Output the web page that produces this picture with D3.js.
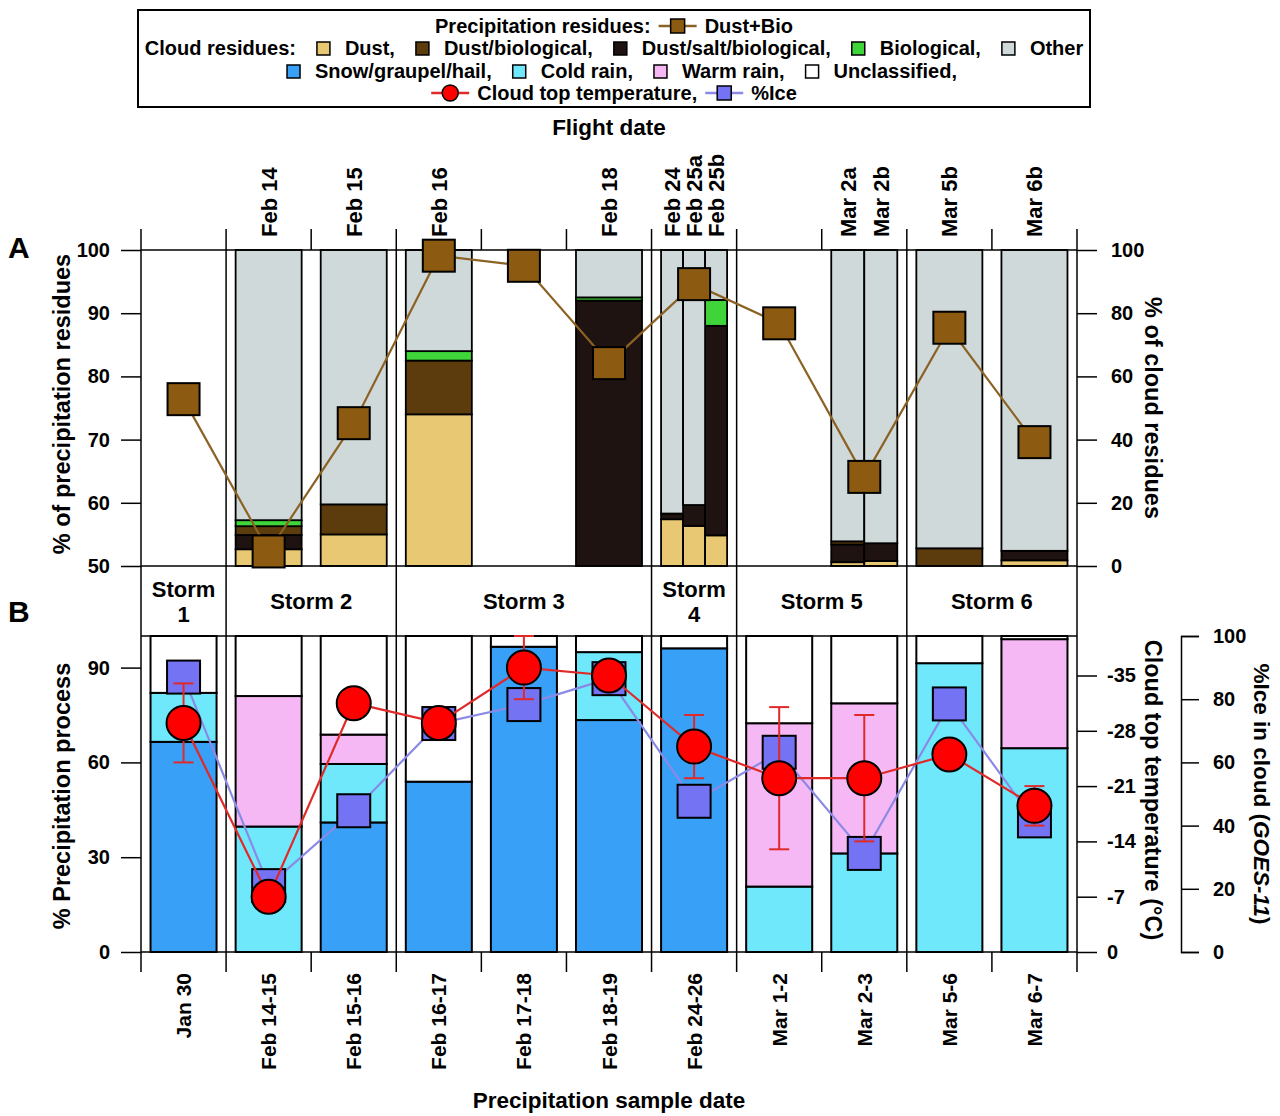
<!DOCTYPE html>
<html>
<head>
<meta charset="utf-8">
<script src="https://cdn.jsdelivr.net/npm/d3@7"></script>
<style>
  body { margin: 0; background: #fff; }
  text { font-family: "Liberation Sans", Arial, sans-serif; font-weight: bold; fill: #000; }
</style>
</head>
<body>
<svg id="chart" width="1280" height="1116"></svg>
<script>
// ---- data ----
const sampleDates = ["Jan 30", "Feb 14-15", "Feb 15-16", "Feb 16-17", "Feb 17-18", "Feb 18-19",
                     "Feb 24-26", "Mar 1-2", "Mar 2-3", "Mar 5-6", "Mar 6-7"];

const stormLabels = [["Storm", "1"], ["Storm 2"], ["Storm 3"], ["Storm", "4"], ["Storm 5"], ["Storm 6"]];
const stormSpans = [1, 2, 3, 1, 2, 2];

// cloud residues (panel A bars), one entry per flight
const flightLabels = ["Feb 14", "Feb 15", "Feb 16", "Feb 18", "Feb 24", "Feb 25a", "Feb 25b",
                      "Mar 2a", "Mar 2b", "Mar 5b", "Mar 6b"];
const flightColumn = [1, 2, 3, 5, 6, 6, 6, 8, 8, 9, 10];
const cloudDust        = [5.3, 10, 48, 0, 14.8, 12.7, 9.7, 1.2, 1.6, 0, 1.8];
const cloudDustSaltBio = [4.5, 0, 0, 84, 1.8, 6.6, 66.3, 5.6, 5.6, 0, 3.0];
const cloudDustBio     = [2.8, 9.5, 17, 0, 0, 0, 0, 1.0, 0, 5.6, 0];
const cloudBio         = [1.9, 0, 3, 1, 0, 0, 8.2, 0, 0, 0, 0];
const cloudOther       = [85.5, 80.5, 32, 15, 83.4, 80.7, 15.8, 92.2, 92.8, 94.4, 95.2];

// precipitation residues Dust+Bio (%), one per sample
const precipDustBio = [76.4, 52.3, 72.6, 99.1, 97.5, 82.1, 94.6, 88.4, 64.1, 87.7, 69.6];

// precipitation process (panel B bars)
const procSnow  = [66.5, 0, 41, 53.9, 96.6, 73.4, 96.1, 0, 0, 0, 0];
const procCold  = [15.5, 39.7, 18.5, 0, 0, 21.5, 0, 20.7, 31.2, 91.4, 64.5];
const procWarm  = [0, 41.3, 9.3, 0, 0, 0, 0, 51.7, 47.5, 0, 34.5];
const procUncl  = [18, 19, 31.2, 46.1, 3.4, 5.1, 3.9, 27.6, 21.3, 8.6, 1];

// cloud top temperature (deg C) with error, and %ice (GOES-11)
const cloudTopTemp = [-29, -7, -31.5, -29, -36, -35, -26, -22, -22, -25, -18.5];
const tempErr      = [5, 0, 0, 0, 4, 0, 4, 9, 8, 0, 2.5];
const iceFraction  = [87, 21, 44.7, 72.3, 78.3, 86.5, 47.7, 63.2, 31.2, 78.5, 41.5];

const ticksA = [50, 60, 70, 80, 90, 100];
const ticksA2 = [0, 20, 40, 60, 80, 100];
const ticksB = [0, 30, 60, 90];
const ticksT = [0, -7, -14, -21, -28, -35];
const ticksI = [0, 20, 40, 60, 80, 100];

// ---- colours ----
const col = {
  dust: "#e8c872", dustBio: "#5c3c0c", dustSaltBio: "#1f1312", bio: "#3ed43a", other: "#d0d9d9",
  snow: "#38a0f6", cold: "#6fe8fb", warm: "#f6b8f4", uncl: "#ffffff",
  dustBioMark: "#8c5a10", dustBioLine: "#8c6224",
  temp: "#ff0000", tempLine: "#e02a2a", ice: "#7373f4", iceLine: "#8a8ae6"
};

const svg = d3.select("#chart");

// ---- scales ----
const left = 141, right = 1077;
const x = d3.scaleBand().domain(sampleDates).range([left, right]).padding(0);
const bw = x.bandwidth();
const inset = bw * 0.112;
const cx = d => x(d) + bw / 2;

const yA = d3.scaleLinear().domain([50, 100]).range([566, 250]);
const yA2 = d3.scaleLinear().domain([0, 100]).range([566, 250]);
const yB = d3.scaleLinear().domain([0, 100]).range([952, 636]);
const yT = d3.scaleLinear().domain([0, -40]).range([952, 636]);
const yI = d3.scaleLinear().domain([0, 100]).range([952, 636]);

// ---- panel A bars ----
const flights = flightLabels.map((f, i) => ({
  flight: f, col: flightColumn[i],
  dust: cloudDust[i], dustSaltBio: cloudDustSaltBio[i], dustBio: cloudDustBio[i],
  bio: cloudBio[i], other: cloudOther[i]
}));
const subX = {};
d3.group(flights, d => d.col).forEach((rows, c) => {
  const x0 = x(sampleDates[c]);
  subX[c] = d3.scaleBand().domain(rows.map(r => r.flight)).range([x0 + inset, x0 + bw - inset]);
});
const fx = d => subX[d.col](d.flight);
const fw = d => subX[d.col].bandwidth();

const keysA = ["dust", "dustSaltBio", "dustBio", "bio", "other"];
const stackA = d3.stack().keys(keysA)(flights);
const gA = svg.append("g");
stackA.forEach(layer => {
  gA.selectAll(null)
    .data(layer.filter(d => d[1] - d[0] > 0))
    .enter().append("rect")
      .attr("x", d => fx(d.data))
      .attr("width", d => fw(d.data))
      .attr("y", d => yA2(d[1]))
      .attr("height", d => yA2(d[0]) - yA2(d[1]))
      .attr("fill", col[layer.key])
      .attr("stroke", "#000")
      .attr("stroke-width", 1.8);
});

// ---- panel B bars ----
const procRows = sampleDates.map((s, i) => ({
  date: s, snow: procSnow[i], cold: procCold[i], warm: procWarm[i], uncl: procUncl[i]
}));
const keysB = ["snow", "cold", "warm", "uncl"];
const stackB = d3.stack().keys(keysB)(procRows);
const gB = svg.append("g");
stackB.forEach(layer => {
  gB.selectAll(null)
    .data(layer.filter(d => d[1] - d[0] > 0))
    .enter().append("rect")
      .attr("x", d => x(d.data.date) + inset)
      .attr("width", bw - 2 * inset)
      .attr("y", d => yB(d[1]))
      .attr("height", d => yB(d[0]) - yB(d[1]))
      .attr("fill", col[layer.key])
      .attr("stroke", "#000")
      .attr("stroke-width", 2);
});

// ---- frame lines ----
const frame = svg.append("g").attr("stroke", "#000").attr("stroke-width", 1.5);
[250, 566, 636, 952].forEach(yy =>
  frame.append("line").attr("x1", left).attr("x2", right).attr("y1", yy).attr("y2", yy));
frame.append("line").attr("x1", left).attr("x2", left).attr("y1", 250).attr("y2", 952);
frame.append("line").attr("x1", right).attr("x2", right).attr("y1", 250).attr("y2", 952);

// storm boundaries + labels
let acc = 0;
stormSpans.forEach((span, i) => {
  const x0 = x(sampleDates[acc]);
  const x1 = acc + span < sampleDates.length ? x(sampleDates[acc + span]) : right;
  if (acc > 0) frame.append("line").attr("x1", x0).attr("x2", x0).attr("y1", 250).attr("y2", 952);
  const lines = stormLabels[i];
  const t = svg.append("text")
    .attr("x", (x0 + x1) / 2).attr("text-anchor", "middle").style("font-size", "22px");
  lines.forEach((ln, k) => {
    t.append("tspan").attr("x", (x0 + x1) / 2)
      .attr("y", lines.length === 1 ? 609 : 597 + k * 25).text(ln);
  });
  acc += span;
});

// column ticks top and bottom
const bounds = sampleDates.map(d => x(d)).concat([right]);
bounds.forEach(b => {
  frame.append("line").attr("x1", b).attr("x2", b).attr("y1", 229).attr("y2", 250);
  frame.append("line").attr("x1", b).attr("x2", b).attr("y1", 952).attr("y2", 972);
});

// ---- panel A Dust+Bio line ----
svg.append("path")
  .datum(precipDustBio)
  .attr("fill", "none").attr("stroke", col.dustBioLine).attr("stroke-width", 2.2)
  .attr("d", d3.line().x((d, i) => cx(sampleDates[i])).y(d => yA(d)));
svg.selectAll(".sqA").data(precipDustBio).enter().append("rect")
  .attr("x", (d, i) => cx(sampleDates[i]) - 16).attr("y", d => yA(d) - 16)
  .attr("width", 32).attr("height", 32)
  .attr("fill", col.dustBioMark).attr("stroke", "#000").attr("stroke-width", 2);

// ---- panel B %ice ----
svg.append("path")
  .datum(iceFraction)
  .attr("fill", "none").attr("stroke", col.iceLine).attr("stroke-width", 2.2)
  .attr("d", d3.line().x((d, i) => cx(sampleDates[i])).y(d => yI(d)));
svg.selectAll(".sqB").data(iceFraction).enter().append("rect")
  .attr("x", (d, i) => cx(sampleDates[i]) - 16.5).attr("y", d => yI(d) - 16.5)
  .attr("width", 33).attr("height", 33)
  .attr("fill", col.ice).attr("stroke", "#000").attr("stroke-width", 2);

// ---- panel B temperature ----
svg.append("path")
  .datum(cloudTopTemp)
  .attr("fill", "none").attr("stroke", col.tempLine).attr("stroke-width", 2.2)
  .attr("d", d3.line().x((d, i) => cx(sampleDates[i])).y(d => yT(d)));
const err = svg.append("g").attr("stroke", col.tempLine).attr("stroke-width", 2);
cloudTopTemp.forEach((t, i) => {
  if (!tempErr[i]) return;
  const xc = cx(sampleDates[i]);
  err.append("line").attr("x1", xc).attr("x2", xc).attr("y1", yT(t - tempErr[i])).attr("y2", yT(t + tempErr[i]));
  [t - tempErr[i], t + tempErr[i]].forEach(v =>
    err.append("line").attr("x1", xc - 10).attr("x2", xc + 10).attr("y1", yT(v)).attr("y2", yT(v)));
});
svg.selectAll(".circ").data(cloudTopTemp).enter().append("circle")
  .attr("cx", (d, i) => cx(sampleDates[i])).attr("cy", d => yT(d)).attr("r", 17)
  .attr("fill", col.temp).attr("stroke", "#000").attr("stroke-width", 2);

// ---- axes ----
function styleAxis(g, fs) {
  g.select(".domain").remove();
  g.selectAll("line").attr("stroke", "#000").attr("stroke-width", 1.5);
  g.selectAll("text").style("font-size", fs).attr("font-family", null).style("font-weight", "bold");
}
const plainFmt = d => String(d);
svg.append("g").attr("transform", `translate(${left},0)`)
  .call(d3.axisLeft(yA).tickValues(ticksA).tickSize(20).tickPadding(11).tickFormat(plainFmt))
  .call(g => styleAxis(g, "20px"));
svg.append("g").attr("transform", `translate(${right},0)`)
  .call(d3.axisRight(yA2).tickValues(ticksA2).tickSize(20).tickPadding(14).tickFormat(plainFmt))
  .call(g => styleAxis(g, "20px"));
svg.append("g").attr("transform", `translate(${left},0)`)
  .call(d3.axisLeft(yB).tickValues(ticksB).tickSize(20).tickPadding(11).tickFormat(plainFmt))
  .call(g => styleAxis(g, "20px"));
svg.append("g").attr("transform", `translate(${right},0)`)
  .call(d3.axisRight(yT).tickValues(ticksT).tickSize(20).tickPadding(10).tickFormat(plainFmt))
  .call(g => styleAxis(g, "20px"));
const iceAx = svg.append("g").attr("transform", "translate(1181,0)")
  .call(d3.axisRight(yI).tickValues(ticksI).tickSize(18).tickSizeOuter(18).tickPadding(14).tickFormat(plainFmt));
iceAx.select(".domain").attr("stroke", "#000").attr("stroke-width", 1.5);
iceAx.selectAll("line").attr("stroke", "#000").attr("stroke-width", 1.5);
iceAx.selectAll("text").style("font-size", "20px").attr("font-family", null);

// top flight labels (single flights sit at the column centre)
svg.selectAll(".flab").data(flights).enter().append("text")
  .attr("transform", d => {
    const single = flights.filter(f => f.col === d.col).length === 1;
    const xc = single ? cx(sampleDates[d.col]) : fx(d) + fw(d) / 2;
    return `translate(${xc},237) rotate(-90)`;
  })
  .attr("dy", "0.36em").style("font-size", "22px").text(d => d.flight);

// bottom sample labels
svg.selectAll(".slab").data(sampleDates).enter().append("text")
  .attr("transform", d => `translate(${cx(d)},973) rotate(-90)`)
  .attr("text-anchor", "end").attr("dy", "0.36em").style("font-size", "21px").text(d => d);

// titles
svg.append("text").attr("x", 609).attr("y", 135).attr("text-anchor", "middle").style("font-size", "22.5px").text("Flight date");
svg.append("text").attr("x", 609).attr("y", 1108).attr("text-anchor", "middle").style("font-size", "22.5px").text("Precipitation sample date");
svg.append("text").attr("x", 8).attr("y", 258).style("font-size", "30px").text("A");
svg.append("text").attr("x", 8).attr("y", 622).style("font-size", "30px").text("B");
const titleSize = "23.5px";
svg.append("text").attr("transform", "translate(62,404) rotate(-90)").attr("text-anchor", "middle").attr("dy", "0.36em")
  .style("font-size", titleSize).text("% of precipitation residues");
svg.append("text").attr("transform", "translate(62,796) rotate(-90)").attr("text-anchor", "middle").attr("dy", "0.36em")
  .style("font-size", titleSize).text("% Precipitation process");
svg.append("text").attr("transform", "translate(1153,408) rotate(90)").attr("text-anchor", "middle").attr("dy", "0.36em")
  .style("font-size", titleSize).text("% of cloud residues");
svg.append("text").attr("transform", "translate(1153,790) rotate(90)").attr("text-anchor", "middle").attr("dy", "0.36em")
  .style("font-size", titleSize).text("Cloud top temperature  (°C)");
const iceT = svg.append("text").attr("transform", "translate(1262,794) rotate(90)").attr("text-anchor", "middle").attr("dy", "0.36em")
  .style("font-size", "22.5px");
iceT.append("tspan").text("%Ice in cloud (");
iceT.append("tspan").style("font-style", "italic").text("GOES-11");
iceT.append("tspan").text(")");

// ---- legend ----
svg.append("rect").attr("x", 138).attr("y", 10).attr("width", 952).attr("height", 97)
  .attr("fill", "none").attr("stroke", "#000").attr("stroke-width", 2);
const legendRows = [
  [["text", "Precipitation residues:"], ["line", col.dustBioLine, "square", col.dustBioMark], ["text", "Dust+Bio"]],
  [["text", "Cloud residues:"], ["box", col.dust], ["text", "Dust,"], ["box", col.dustBio], ["text", "Dust/biological,"],
   ["box", col.dustSaltBio], ["text", "Dust/salt/biological,"], ["box", col.bio], ["text", "Biological,"],
   ["box", col.other], ["text", "Other"]],
  [["box", col.snow], ["text", "Snow/graupel/hail,"], ["box", col.cold], ["text", "Cold rain,"],
   ["box", col.warm], ["text", "Warm rain,"], ["box", col.uncl], ["text", "Unclassified,"]],
  [["line", col.tempLine, "circle", col.temp], ["text", "Cloud top temperature,"],
   ["line", col.iceLine, "square", col.ice], ["text", "%Ice"]]
];
const rowY = [26, 48, 71, 93];
const rowShift = [0, 0, 8, 0];
legendRows.forEach((row, r) => {
  const g = svg.append("g");
  let cur = 0;
  row.forEach((it, k) => {
    if (it[0] === "text") {
      const t = g.append("text").attr("x", cur).attr("y", 7).style("font-size", "20px").text(it[1]);
      cur += t.node().getComputedTextLength() + 8;
    } else if (it[0] === "box") {
      if (k > 0) cur += 13;
      g.append("rect").attr("x", cur).attr("y", -6).attr("width", 13).attr("height", 13)
        .attr("fill", it[1]).attr("stroke", "#000").attr("stroke-width", 1.5);
      cur += 13 + 15;
    } else {
      g.append("line").attr("x1", cur).attr("x2", cur + 38).attr("y1", 0).attr("y2", 0)
        .attr("stroke", it[1]).attr("stroke-width", 2.5);
      if (it[2] === "circle") {
        g.append("circle").attr("cx", cur + 19).attr("cy", 0).attr("r", 8)
          .attr("fill", it[3]).attr("stroke", "#000").attr("stroke-width", 1.5);
      } else {
        g.append("rect").attr("x", cur + 12).attr("y", -7).attr("width", 14).attr("height", 14)
          .attr("fill", it[3]).attr("stroke", "#000").attr("stroke-width", 1.5);
      }
      cur += 38 + 8;
    }
  });
  const w = cur - 8;
  g.attr("transform", `translate(${614 + rowShift[r] - w / 2},${rowY[r]})`);
});
</script>
</body>
</html>
